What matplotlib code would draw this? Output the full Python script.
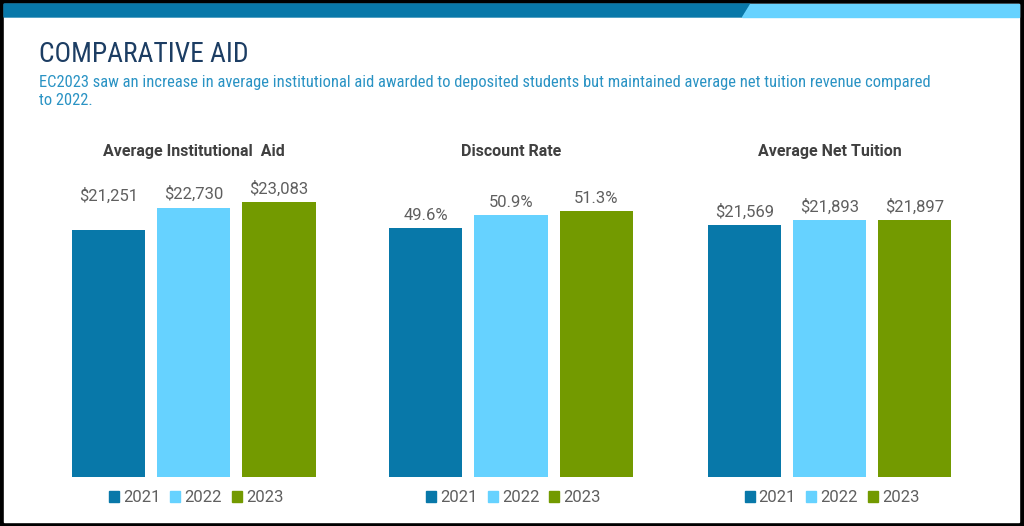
import matplotlib
matplotlib.use("Agg")
import matplotlib.pyplot as plt
from matplotlib import font_manager
from matplotlib.patches import Rectangle, Polygon, Patch

# data
years = ["2021", "2022", "2023"]
panel_titles = ["Average Institutional  Aid", "Discount Rate", "Average Net Tuition"]
inst_aid = [21251, 22730, 23083]
discount_rate = [49.6, 50.9, 51.3]
net_tuition = [21569, 21893, 21897]

headline = "COMPARATIVE AID"
subtitle = ("EC2023 saw an increase in average institutional aid awarded to deposited students "
            "but maintained average net tuition revenue compared\nto 2022.")

colors = ["#0878A9", "#66D2FF", "#739A00"]
W, H = 1024, 526

installed = {f.name for f in font_manager.fontManager.ttflist}
def pick(*names):
    for n in names:
        if n in installed:
            return n
    return "DejaVu Sans"

narrow = pick("Liberation Sans Narrow", "Roboto Condensed", "DejaVu Sans Condensed", "Roboto")
body = pick("Roboto", "Lato", "DejaVu Sans")

fig = plt.figure(figsize=(W / 100, H / 100), dpi=100, facecolor="black")

def fx(x):
    return x / W

def fy(y):
    return 1 - y / H

# white card + top band
fig.patches.append(Rectangle((fx(4), fy(522)), fx(1015), (522 - 4) / H,
                             transform=fig.transFigure, color="white", zorder=-5))
fig.patches.append(Polygon([(fx(4), fy(4)), (fx(750), fy(4)), (fx(742), fy(17)), (fx(4), fy(17))],
                           closed=True, transform=fig.transFigure, color="#0878A9", zorder=-4))
fig.patches.append(Polygon([(fx(750), fy(4)), (fx(1019), fy(4)), (fx(1019), fy(17)), (fx(742), fy(17))],
                           closed=True, transform=fig.transFigure, color="#66D2FF", zorder=-4))

fig.text(fx(39), fy(61.5), headline, family=narrow, fontsize=19.8, color="#1C3D63", va="baseline")
fig.text(fx(39), fy(104.5), subtitle, family=narrow, fontsize=11.9, color="#2A93C4", va="baseline",
         linespacing=1.25)

panels = [
    (inst_aid, 66, (5000, 24740), lambda v: f"${v:,.0f}", [21, 0, 0]),
    (discount_rate, 383.2, (24.7, 54.7), lambda v: f"{v:.1f}%", [0, 0, 0]),
    (net_tuition, 701.6, (5000, 24740), lambda v: f"${v:,.0f}", [0, 0, 0]),
]

for (vals, left, ylim, fmt, lift), title in zip(panels, panel_titles):
    ax = fig.add_axes([fx(left), fy(477), 255.6 / W, 300 / H])
    ax.set_facecolor("none")
    ax.bar(range(3), vals, width=0.857, color=colors)
    ax.set_xlim(-0.5, 2.5)
    ax.set_ylim(*ylim)
    ax.axis("off")
    for i, v in enumerate(vals):
        ax.annotate(fmt(v), (i, v), xytext=(0, 6 + lift[i] * 0.72), textcoords="offset points",
                    ha="center", va="baseline", fontsize=12, color="#5F5F5F", family=body)
    fig.text(fx(left + 127.8), fy(156), title, ha="center", va="baseline",
             fontsize=11.5, fontweight="bold", color="#404040", family=body)
    handles = [Patch(color=c, label=y) for c, y in zip(colors, years)]
    ax.legend(handles=handles, ncol=3, loc="center", bbox_to_anchor=(0.51, -0.07),
              frameon=False, labelcolor="#5F5F5F", handlelength=0.6,
              handleheight=0.6, handletextpad=0.25, columnspacing=0.6,
              prop={"family": body, "size": 12})

fig.savefig("out.png", dpi=100, facecolor="black")
